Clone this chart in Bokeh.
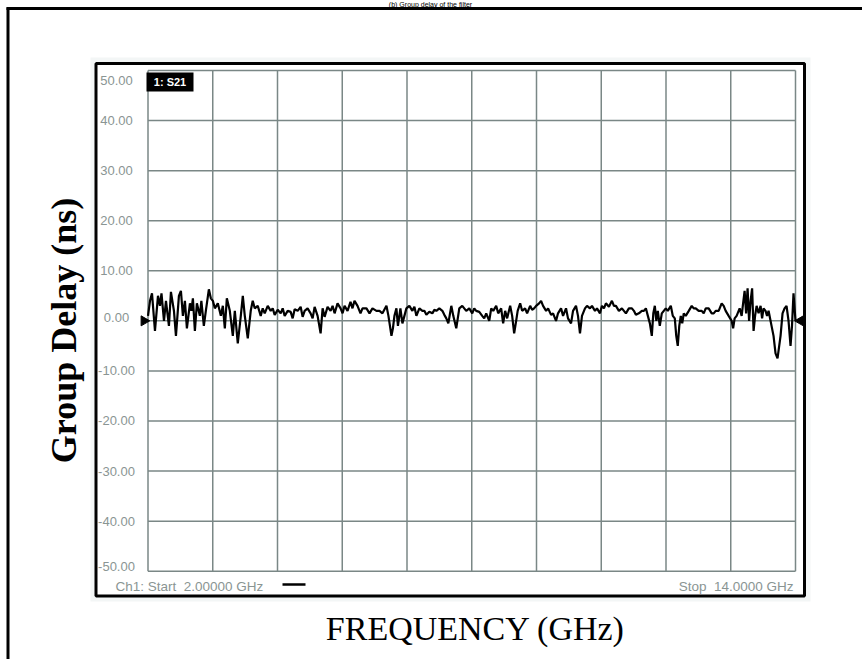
import math
from bokeh.plotting import figure
from bokeh.models import ColumnDataSource, Range1d
from bokeh.core.properties import value
from bokeh.embed import file_html
from bokeh.resources import INLINE

# ---------------- data ----------------
freq_ghz = [
    2.000, 2.037, 2.074, 2.129, 2.185, 2.222, 2.250, 2.296, 2.333, 2.388,
    2.425, 2.481, 2.518, 2.573, 2.610, 2.647, 2.684, 2.721, 2.777, 2.804,
    2.832, 2.869, 2.906, 2.961, 2.989, 3.035, 3.072, 3.128, 3.165, 3.202,
    3.239, 3.294, 3.350, 3.387, 3.424, 3.461, 3.516, 3.572, 3.609, 3.664,
    3.720, 3.757, 3.794, 3.849, 3.904, 3.941, 3.978, 4.034, 4.089,
    4.126, 4.163, 4.219, 4.274, 4.311, 4.348, 4.404, 4.459, 4.496, 4.533,
    4.589, 4.644, 4.681, 4.718, 4.774, 4.829, 4.866, 4.903, 4.958, 5.014,
    5.051, 5.088, 5.143, 5.199, 5.236, 5.273, 5.328, 5.384, 5.421, 5.458,
    5.513, 5.569, 5.606, 5.643, 5.698, 5.753, 5.790, 5.827, 5.883, 5.938,
    5.975,
    6.049, 6.105, 6.160, 6.234, 6.290, 6.345, 6.419, 6.456, 6.512, 6.539,
    6.567, 6.604, 6.632, 6.678, 6.715, 6.752, 6.789, 6.844, 6.900, 6.937,
    6.974, 7.029, 7.085, 7.122, 7.159, 7.214, 7.270, 7.307, 7.344, 7.399,
    7.455, 7.492, 7.529, 7.566, 7.621, 7.658, 7.713, 7.741, 7.769, 7.824,
    7.861, 7.898, 7.954, 8.009, 8.046, 8.083, 8.139, 8.194, 8.231, 8.268,
    8.324, 8.361, 8.398, 8.453, 8.490, 8.545, 8.582, 8.619, 8.656, 8.712,
    8.749, 8.786, 8.823, 8.851, 8.897, 8.934, 8.989, 9.026, 9.082, 9.119,
    9.156, 9.193, 9.248, 9.285, 9.322, 9.378, 9.415, 9.470, 9.507, 9.562,
    9.599, 9.655, 9.692, 9.747, 9.784, 9.840, 9.877, 9.932, 9.969,
    10.006, 10.043, 10.099, 10.136, 10.191, 10.228, 10.284, 10.321, 10.376, 10.413,
    10.450, 10.487, 10.542, 10.598, 10.635, 10.672, 10.727, 10.783, 10.820, 10.857,
    10.912, 10.968, 11.005, 11.042, 11.097, 11.153, 11.190, 11.227, 11.264, 11.301,
    11.337, 11.365, 11.393, 11.421, 11.448, 11.485, 11.522, 11.559, 11.596, 11.633,
    11.689, 11.726, 11.763, 11.790, 11.818, 11.846, 11.874, 11.901, 11.929, 11.966,
    12.022, 12.077, 12.114, 12.151, 12.206, 12.262, 12.299, 12.336, 12.391, 12.447,
    12.484, 12.521, 12.576, 12.632, 12.669, 12.706, 12.761, 12.817, 12.844, 12.872,
    12.909, 12.965, 13.002, 13.029, 13.057, 13.085, 13.112, 13.140, 13.168, 13.196,
    13.223, 13.251, 13.279, 13.316, 13.353, 13.381, 13.408, 13.445, 13.473, 13.501,
    13.556, 13.593, 13.630, 13.667, 13.723, 13.760, 13.797, 13.834, 13.871, 13.908,
    13.935, 13.963, 14.000,
]
delay_ns = [
    1.0, 4.0, 5.5, -2.0, 5.0, 3.0, 5.5, 0.0, 4.0, -1.0,
    5.8, 2.0, -3.0, 5.0, 6.0, 1.0, 4.0, -1.5, 3.5, 2.0,
    4.5, -2.0, 3.5, 1.0, 4.0, -1.0, 2.0, 6.3, 4.5, 4.0,
    2.5, 3.5, 1.0, 3.0, -1.5, 4.5, 2.0, -3.0, 2.0, -4.5,
    1.0, 5.0, 1.0, -3.5, 2.0, 4.0, 2.5, 3.0, 1.0,
    2.5, 1.5, 3.0, 2.0, 2.5, 1.2, 2.2, 1.5, 2.5, 1.0,
    2.0, 1.8, 0.5, 2.3, 2.0, 2.8, 0.8, 2.0, 2.5, 1.5,
    0.5, 2.8, 1.0, -2.5, 2.5, 0.8, 2.8, 2.0, 3.0, 1.5,
    3.5, 2.5, 1.5, 3.0, 2.0, 3.8, 2.5, 4.0, 3.0, 1.5,
    2.5,
    2.5, 1.5, 2.5, 2.0, 2.0, 1.5, 3.0, 1.0, -3.0, -1.5,
    1.0, 2.5, -1.0, 2.5, -0.5, 1.0, 2.5, 3.0, 2.0, 2.8,
    1.0, 2.5, 2.0, 2.0, 1.2, 1.8, 1.5, 2.2, 2.0, 2.5,
    2.0, 1.2, 0.5, -0.5, 3.0, 1.0, -1.5, 0.5, 2.5, 3.0,
    2.5, 2.0, 2.5, 1.5, 2.5, 2.0, 1.8, 1.0, 0.5, 1.5,
    0.0, 2.5, 2.0, 3.0, 1.5, 2.5, -0.5, 2.0, 0.5, 3.0,
    1.0, -2.5, 0.0, 2.0, 3.5, 2.0, 2.5, 1.5, 3.0, 2.2,
    2.5, 3.0, 3.5, 4.0, 3.0, 2.0, 2.5, 1.2, 1.5, 0.0,
    1.5, 2.5, 1.0, 2.5, 0.5, -0.5, 2.0, 3.0, 1.0,
    -2.5, 1.0, 2.5, 3.0, 2.5, 3.0, 2.0, 2.5, 1.5, 3.0,
    2.5, 3.5, 2.8, 4.0, 3.0, 3.0, 2.0, 2.5, 2.0, 1.5,
    2.5, 2.5, 2.0, 1.2, 1.5, 2.0, 2.0, 2.5, 1.0, -0.5,
    -3.0, 1.5, 3.0, 0.0, 2.0, -1.0, 1.5, 2.0, 2.5, 2.0,
    3.0, 1.0, 0.5, -3.0, -5.0, -1.0, 1.0, -0.5, 1.5, 1.0,
    2.0, 3.0, 2.5, 2.5, 2.0, 2.0, 1.5, 2.5, 2.5, 1.5,
    1.5, 2.0, 2.0, 3.5, 3.0, 2.0, 1.0, 0.0, -1.5, 0.5,
    1.0, 2.5, 1.0, 3.5, 6.0, 1.5, 6.5, 0.0, 4.0, 6.5,
    -2.0, 1.0, 3.0, 1.5, 3.0, 0.5, 2.5, 2.0, 1.0, 2.0,
    -1.0, -3.0, -6.5, -7.5, -3.0, 1.5, 2.5, 3.0, 0.0, -5.0,
    -1.0, 5.5, 0.0,
]

freq_divisions = [2.0, 3.2, 4.4, 5.6, 6.8, 8.0, 9.2, 10.4, 11.6, 12.8, 14.0]
delay_divisions = [50, 40, 30, 20, 10, 0, -10, -20, -30, -40, -50]
delay_labels = ["50.00", "40.00", "30.00", "20.00", "10.00", "0.00",
                "-10.00", "-20.00", "-30.00", "-40.00", "-50.00"]
label_nudge = [10, 0, 0, 0, 0, -3, 0, 0, 0, 0, -5]

title_text = "(b) Group delay of the filter"
x_title = "FREQUENCY (GHz)"
y_title = "Group Delay (ns)"
start_text = "Ch1: Start\u00a0 2.00000 GHz"
stop_text = "Stop\u00a0 14.0000 GHz"
trace_tag = "1: S21"

# ---------------- layout (pixels of the 862x659 page) ----------------
W, H = 862, 659
GX0, GX1 = 147.5, 795.0      # grid left/right
GY0, GY1 = 70.0, 570.7       # grid top/bottom
F0, F1 = freq_divisions[0], freq_divisions[-1]
D0, D1 = delay_divisions[-1], delay_divisions[0]

sx = (F1 - F0) / (GX1 - GX0)
sy = (D1 - D0) / (GY1 - GY0)
x_start = F0 - GX0 * sx
x_end = F1 + (W - GX1) * sx
y_end = D1 + GY0 * sy
y_start = D0 - (H - GY1) * sy


def X(px):
    return x_start + px * sx


def Y(py):
    return y_end - py * sy


p = figure(width=W, height=H, x_range=Range1d(x_start, x_end),
           y_range=Range1d(y_start, y_end), output_backend="svg",
           toolbar_location=None, min_border=0,
           x_axis_type=None, y_axis_type=None)
p.outline_line_color = None
p.grid.visible = False
p.background_fill_color = "white"
p.border_fill_color = "white"

# outer frame (only top and left edges visible)
p.segment(x0=[X(7.5), X(6)], y0=[Y(7), Y(8)], x1=[X(7.5), X(870)], y1=[Y(700), Y(8)],
          line_color="black", line_width=3)

# faint shadow around instrument screen
p.quad(left=[X(90)], right=[X(810)], top=[Y(57)], bottom=[Y(601)],
       fill_color="#f3f6f6", line_color=None)
# instrument screen box
p.quad(left=[X(95.5)], right=[X(804)], top=[Y(63)], bottom=[Y(595.5)],
       fill_color="white", line_color="black", line_width=3)

# grid
grid_col = "#7a8786"
p.segment(x0=freq_divisions, y0=[D0] * len(freq_divisions),
          x1=freq_divisions, y1=[D1] * len(freq_divisions),
          line_color=grid_col, line_width=1.5)
p.segment(x0=[F0] * len(delay_divisions), y0=delay_divisions,
          x1=[F1] * len(delay_divisions), y1=delay_divisions,
          line_color=grid_col, line_width=1.5)

# trace
p.line(freq_ghz, delay_ns, line_color="black", line_width=2.2)

# reference markers
p.scatter(x=[X(143.5)], y=[0], marker="triangle", angle=-math.pi / 2,
          size=10, color="black")
p.scatter(x=[X(800.5)], y=[0], marker="triangle", angle=math.pi / 2,
          size=11, color="black")

# trace tag box
p.quad(left=[X(146)], right=[X(193)], top=[Y(72)], bottom=[Y(91)],
       fill_color="black", line_color=None)
p.text(x=[X(169.5)], y=[Y(81.5)], text=[trace_tag], text_color="white",
       text_font=value("Liberation Sans"), text_font_size="11px",
       text_font_style="bold", text_align="center", text_baseline="middle")

# y division labels
lab_src = ColumnDataSource(dict(x=[X(116)] * len(delay_divisions),
                                y=delay_divisions, t=delay_labels,
                                off=label_nudge))
p.text(x="x", y="y", text="t", y_offset="off", source=lab_src,
       text_color="#8a9593", text_font=value("Liberation Sans"),
       text_font_size="13px", text_align="center", text_baseline="middle")

# footer texts
p.text(x=[X(115)], y=[Y(586)], text=[start_text], text_color="#8a9593",
       text_font=value("Liberation Sans"), text_font_size="13.5px",
       text_align="left", text_baseline="middle")
p.text(x=[X(793)], y=[Y(586)], text=[stop_text], text_color="#8a9593",
       text_font=value("Liberation Sans"), text_font_size="13.5px",
       text_align="right", text_baseline="middle")
p.segment(x0=[X(282)], y0=[Y(584)], x1=[X(305)], y1=[Y(584)],
          line_color="black", line_width=2.5)

# axis titles
p.text(x=[X(475)], y=[Y(628)], text=[x_title], text_color="black",
       text_font=value("Liberation Serif"), text_font_size="34px",
       text_align="center", text_baseline="middle")
p.text(x=[X(63)], y=[Y(330)], text=[y_title], text_color="black",
       text_font=value("Liberation Serif"), text_font_size="36px",
       text_font_style="bold", angle=math.pi / 2,
       text_align="center", text_baseline="middle")

# title, in the thin band above the outer frame
p.text(x=[X(430)], y=[Y(3.6)], text=[title_text], text_color="black",
       text_font=value("Liberation Sans"), text_font_size="7px",
       text_align="center", text_baseline="middle")

open("out.html", "w").write(file_html(p, INLINE))
